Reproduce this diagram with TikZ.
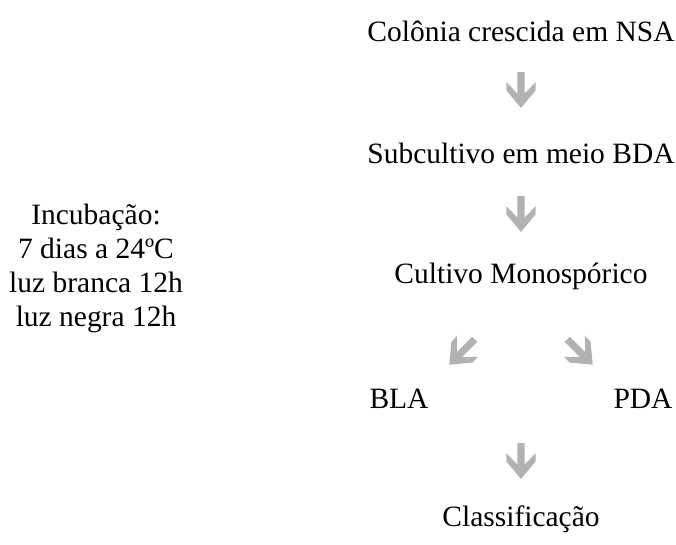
\documentclass[tikz,border=0pt]{standalone}
\usepackage{fontspec}
\setmainfont{Liberation Serif}
\definecolor{arrowgray}{RGB}{178,178,178}
\tikzset{
  lbl/.style={inner sep=0pt, anchor=base, font=\fontsize{29.6}{34}\selectfont},
  blockarrow/.pic={\fill[arrowgray] (-0.125,0.61) -- (0.125,0.61) -- (0.125,-0.12) -- (0.5,0.27) -- (0.5,-0.01) -- (0,-0.61) -- (-0.5,-0.01) -- (-0.5,0.27) -- (-0.125,-0.12) -- cycle;}
}
\begin{document}
\begin{tikzpicture}[x=1bp,y=1bp]
\useasboundingbox (0,0) rectangle (676,545);
\node[lbl] (t1) at (521,503) {Colônia crescida em NSA};
\node[lbl] (t2) at (521,381) {Subcultivo em meio BDA};
\node[lbl] (t3) at (521,261) {Cultivo Monospórico};
\node[lbl] (bla) at (399,136) {BLA};
\node[lbl] (pda) at (643,136) {PDA};
\node[lbl] (t4) at (521,18) {Classificação};
\node[lbl] (i1) at (96,320) {Incubação:};
\node[lbl] (i2) at (96,286) {7 dias a 24ºC};
\node[lbl] (i3) at (96,252) {luz branca 12h};
\node[lbl] (i4) at (96,218) {luz negra 12h};
\pic[scale=29.4] at (521,455) {blockarrow};
\pic[scale=29.4] at (521,331) {blockarrow};
\pic[scale=29.4,rotate=-45] at (462,193) {blockarrow};
\pic[scale=29.4,rotate=45] at (580,193) {blockarrow};
\pic[scale=29.4] at (521,84) {blockarrow};
\end{tikzpicture}
\end{document}
